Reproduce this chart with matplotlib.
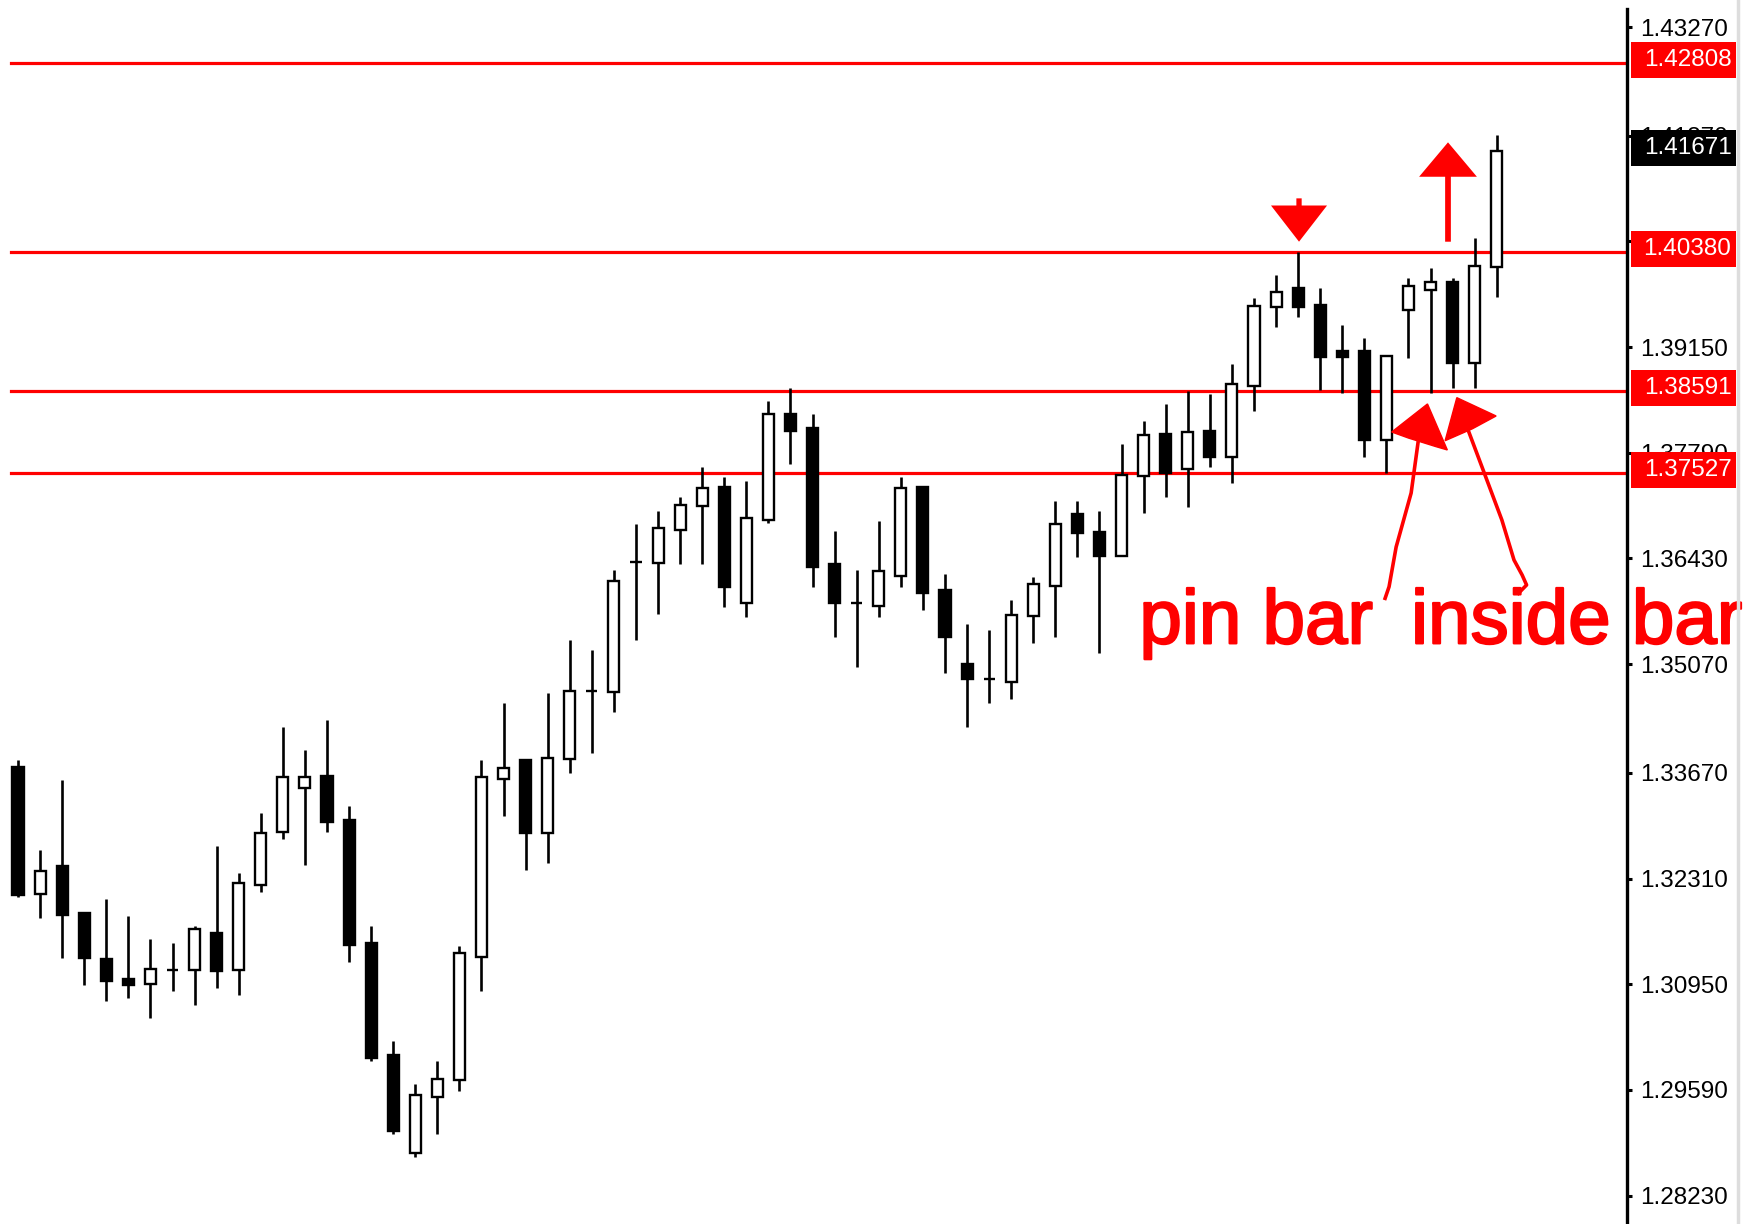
import matplotlib
matplotlib.use("Agg")
import numpy as np
from matplotlib import pyplot as plt
from matplotlib import patheffects
from matplotlib.patches import Polygon, Rectangle
from matplotlib.lines import Line2D
from matplotlib.transforms import blended_transform_factory

# daily candles
opens = [1.33750, 1.32108, 1.32472, 1.31871, 1.31279, 1.31022, 1.30950, 1.31138, 1.31134, 1.31614,
         1.31134, 1.32228, 1.32914, 1.33472, 1.33630, 1.33064, 1.31485, 1.30036, 1.28775, 1.29503,
         1.29718, 1.31297, 1.33592, 1.33836, 1.32901, 1.33849, 1.34724, 1.34715, 1.36381, 1.36376,
         1.36796, 1.37105, 1.37346, 1.35861, 1.36925, 1.38286, 1.38105, 1.36355, 1.35853, 1.35818,
         1.36204, 1.37346, 1.36024, 1.35068, 1.34875, 1.34844, 1.35690, 1.36076, 1.36999, 1.36775,
         1.36462, 1.37491, 1.38028, 1.37578, 1.38071, 1.37740, 1.38654, 1.39670, 1.39907, 1.39692,
         1.39100, 1.39100, 1.37955, 1.39628, 1.39885, 1.39992, 1.38950, 1.40185]
highs = [1.33836, 1.32678, 1.33579, 1.31871, 1.32051, 1.31832, 1.31536, 1.31485, 1.31704, 1.32733,
         1.32386, 1.33158, 1.34257, 1.33965, 1.34351, 1.33244, 1.31704, 1.30220, 1.29663, 1.29962,
         1.31446, 1.33836, 1.34566, 1.33836, 1.34695, 1.35381, 1.35252, 1.36282, 1.36874, 1.37041,
         1.37217, 1.37603, 1.37475, 1.37423, 1.38457, 1.38625, 1.38289, 1.36784, 1.36282, 1.36912,
         1.37475, 1.37346, 1.36230, 1.35583, 1.35509, 1.35896, 1.36195, 1.37170, 1.37170, 1.37041,
         1.37899, 1.38199, 1.38418, 1.38585, 1.38543, 1.38929, 1.39778, 1.40078, 1.40378, 1.39907,
         1.39435, 1.39264, 1.39040, 1.40036, 1.40165, 1.40036, 1.40551, 1.41880]
lows = [1.32073, 1.31799, 1.31292, 1.30941, 1.30735, 1.30777, 1.30520, 1.30863, 1.30683, 1.30906,
        1.30812, 1.32134, 1.32816, 1.32485, 1.32906, 1.31233, 1.29966, 1.29027, 1.28723, 1.29027,
        1.29580, 1.30863, 1.33119, 1.32421, 1.32515, 1.33673, 1.33930, 1.34450, 1.35385, 1.35719,
        1.36363, 1.36363, 1.35809, 1.35681, 1.36883, 1.37650, 1.36067, 1.35423, 1.35037, 1.35681,
        1.36067, 1.35767, 1.34960, 1.34265, 1.34574, 1.34621, 1.35338, 1.35423, 1.36453, 1.35210,
        1.36462, 1.37011, 1.37225, 1.37096, 1.37611, 1.37397, 1.38332, 1.39405, 1.39534, 1.38598,
        1.38556, 1.37732, 1.37530, 1.39014, 1.38556, 1.38620, 1.38620, 1.39791]
closes = [1.32099, 1.32412, 1.31841, 1.31292, 1.30996, 1.30941, 1.31143, 1.31138, 1.31657, 1.31125,
          1.32249, 1.32893, 1.33621, 1.33621, 1.33035, 1.31455, 1.30005, 1.29065, 1.29525, 1.29735,
          1.31349, 1.33621, 1.33730, 1.32901, 1.33866, 1.34728, 1.34724, 1.36144, 1.36381, 1.36826,
          1.37118, 1.37341, 1.36067, 1.36955, 1.38286, 1.38074, 1.36324, 1.35853, 1.35853, 1.36273,
          1.37341, 1.35982, 1.35423, 1.34875, 1.34875, 1.35702, 1.36098, 1.36870, 1.36754, 1.36462,
          1.37504, 1.38019, 1.37526, 1.38062, 1.37732, 1.38672, 1.39683, 1.39856, 1.39663, 1.39019,
          1.39019, 1.37955, 1.39040, 1.39941, 1.39992, 1.38942, 1.40198, 1.41671]

level_lines = [1.42808, 1.40380, 1.38591, 1.37527]
last_price = 1.41671
tick_values = [1.43270, 1.41870, 1.40510, 1.39150, 1.37790, 1.36430,
               1.35070, 1.33670, 1.32310, 1.30950, 1.29590, 1.28230]
tick_labels = ["1.43270", "1.41870", "1.40510", "1.39150", "1.37790", "1.36430",
               "1.35070", "1.33670", "1.32310", "1.30950", "1.29590", "1.28230"]

# hand drawn annotations, in (candle index, price)
pin_line_x = [63.43, 63.12, 62.44, 62.12, 61.94]
pin_line_y = [1.37917, 1.37273, 1.36578, 1.36067, 1.35917]
pin_head_x = [62.24, 63.86, 64.76, 64.24, 63.0]
pin_head_y = [1.38058, 1.38419, 1.37827, 1.37870, 1.37980]
inside_line_x = [65.70, 66.33, 67.23, 67.78, 68.15, 68.35, 67.98]
inside_line_y = [1.38084, 1.37608, 1.36926, 1.36411, 1.36217, 1.36089, 1.35982]
inside_head_x = [64.66, 65.19, 66.97, 65.9]
inside_head_y = [1.37946, 1.38500, 1.38264, 1.38100]
down_arrow = dict(x=58.04, tip=1.40507, head=1.40973, tail=1.41065)
up_arrow = dict(x=64.79, tip=1.41786, head=1.41343, tail=1.40507)
text_baseline = 1.35338

RED = "#ff0000"
SANS = ["Liberation Sans", "DejaVu Sans"]


def arrow_poly(x, tip, head, tail, half_head, half_stem):
    return [(x - half_stem, tail), (x + half_stem, tail), (x + half_stem, head),
            (x + half_head, head), (x, tip), (x - half_head, head), (x - half_stem, head)]


def main():
    fig = plt.figure(figsize=(17.54, 12.24), dpi=100)
    ax = fig.add_axes([0, 0, 1627 / 1754, 1215 / 1224])

    x = np.arange(len(opens))
    o = np.array(opens)
    c = np.array(closes)
    bottoms = np.minimum(o, c)
    heights = np.abs(c - o)
    body_colors = ["white" if cc >= oo else "black" for oo, cc in zip(o, c)]

    ax.vlines(x, lows, highs, color="black", linewidth=1.9, zorder=2)
    ax.bar(x, heights, bottom=bottoms, width=0.5, color=body_colors,
           edgecolor="black", linewidth=1.7, zorder=3)

    for lvl in level_lines:
        ax.plot([-0.32, 80], [lvl, lvl], color=RED, linewidth=2.3, zorder=1)

    ax.set_xlim(-0.8156, 72.90)
    ax.set_ylim(1.27865, 1.43502)

    for s in ["left", "top", "bottom"]:
        ax.spines[s].set_visible(False)
    ax.spines["right"].set_linewidth(2.4)
    ax.set_xticks([])
    ax.yaxis.tick_right()
    ax.set_yticks(tick_values)
    ax.set_yticklabels(tick_labels, family=SANS, fontsize=17.5)
    ax.tick_params(axis="y", length=3.6, width=2.2, pad=5.5, colors="black")

    # price boxes on the scale
    tr = blended_transform_factory(ax.transAxes, ax.transData)
    box_h = 0.00463
    boxes = [(v, RED) for v in level_lines] + [(last_price, "black")]
    for val, col in boxes:
        yc = val + 0.00039
        ax.add_patch(Rectangle((1.00246, yc - box_h / 2), 0.06454, box_h, transform=tr,
                               facecolor=col, edgecolor="none", clip_on=False, zorder=6))
        ax.text(1.0372, yc, f"{val:.5f}", transform=tr, color="white", fontsize=17.5,
                family=SANS, ha="center", va="center", zorder=7, clip_on=False)

    # red arrows
    ax.add_patch(Polygon(arrow_poly(down_arrow["x"], down_arrow["tip"], down_arrow["head"],
                                    down_arrow["tail"], 1.27, 0.12),
                         closed=True, facecolor=RED, edgecolor="none", zorder=5))
    ax.add_patch(Polygon(arrow_poly(up_arrow["x"], up_arrow["tip"], up_arrow["head"],
                                    up_arrow["tail"], 1.31, 0.13),
                         closed=True, facecolor=RED, edgecolor="none", zorder=5))

    ax.plot(pin_line_x, pin_line_y, color=RED, linewidth=2.6, zorder=5)
    ax.add_patch(Polygon(list(zip(pin_head_x, pin_head_y)), closed=True,
                         facecolor=RED, edgecolor=RED, linewidth=1, zorder=5))
    ax.plot(inside_line_x, inside_line_y, color=RED, linewidth=2.6, zorder=5, clip_on=False)
    ax.add_patch(Polygon(list(zip(inside_head_x, inside_head_y)), closed=True,
                         facecolor=RED, edgecolor=RED, linewidth=1, zorder=5))

    # a thin outline makes the strokes as heavy as in the picture
    heavy = [patheffects.withStroke(linewidth=1.6, foreground=RED)]
    ax.text(56.1, text_baseline, "pin bar", color=RED, fontsize=55, family=SANS,
            ha="center", va="baseline", zorder=8, path_effects=heavy)
    ax.text(70.62, text_baseline, "inside bar", color=RED, fontsize=55, family=SANS,
            ha="center", va="baseline", zorder=8, clip_on=False, path_effects=heavy)

    # thin grey frame at the right edge
    fig.add_artist(Line2D([1737.5 / 1754] * 2, [0, 1], transform=fig.transFigure,
                          color="#dddddd", linewidth=2.5))

    fig.savefig("out.png", dpi=100, facecolor="white")


if __name__ == '__main__':
    main()
